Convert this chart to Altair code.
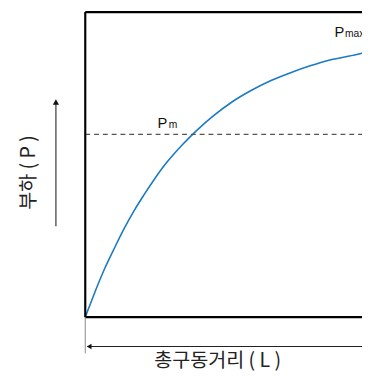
import altair as alt
import pandas as pd

# curve (x: distance units, y: load units)
curve_x = [0, 5, 10, 20, 30, 40, 50, 60, 70, 80, 90, 100, 113, 130, 150, 170, 190, 210, 230, 250, 270, 283]
curve_y = [0, 13, 26, 50, 71, 91, 109, 125, 140, 154, 166, 177, 190, 205, 220, 232, 242, 250, 257, 263, 267, 270]
pm_level = 187
x_max = 283
y_max = 312

x_title = "총구동거리 ( L )"
y_title = "부하 ( P )"

XS = alt.Scale(domain=[0, x_max], nice=False, zero=False)
YS = alt.Scale(domain=[0, y_max], nice=False, zero=False)

def X(f="x"):
    return alt.X(f, type="quantitative", scale=XS, axis=None)

def Y(f="y"):
    return alt.Y(f, type="quantitative", scale=YS, axis=None)

curve_df = pd.DataFrame({"x": curve_x, "y": curve_y})
curve = alt.Chart(curve_df).mark_line(color="#1a7ac4", strokeWidth=1.6, interpolate="monotone").encode(x=X(), y=Y())

pm_df = pd.DataFrame({"x": [0], "x2": [x_max], "y": [pm_level]})
pm_line = alt.Chart(pm_df).mark_rule(color="#555555", strokeWidth=1.2, strokeDash=[5, 4]).encode(
    x=X(), x2="x2", y=Y())

frame_df = pd.DataFrame({"x": [0, 0, 0], "y": [0, y_max, 0], "x2": [0, x_max, x_max], "y2": [y_max, y_max, 0]})
frame = alt.Chart(frame_df).mark_rule(color="black", strokeWidth=2.2).encode(x=X(), y=Y(), x2="x2", y2="y2")

ext_df = pd.DataFrame({"x": [0], "y": [0], "x2": [0], "y2": [-37]})
ext = alt.Chart(ext_df).mark_rule(color="#888888", strokeWidth=1).encode(x=X(), y=Y(), x2="x2", y2="y2")

arr_df = pd.DataFrame({"x": [2, -30], "y": [-30, 93], "x2": [x_max, -30], "y2": [-30, 221]})
arr = alt.Chart(arr_df).mark_rule(color="#222222", strokeWidth=1.1).encode(x=X(), y=Y(), x2="x2", y2="y2")

head_l = alt.Chart(pd.DataFrame({"x": [4], "y": [-30]})).mark_point(
    shape="triangle-left", filled=True, color="#111111", size=30, opacity=1).encode(x=X(), y=Y())
head_u = alt.Chart(pd.DataFrame({"x": [-30], "y": [220]})).mark_point(
    shape="triangle-up", filled=True, color="#111111", size=40, opacity=1).encode(x=X(), y=Y())

big_df = pd.DataFrame({"x": [74, 255], "y": [193.5, 287], "t": ["P", "P"]})
big = alt.Chart(big_df).mark_text(align="left", baseline="alphabetic", font="Liberation Sans",
                                  fontSize=15, color="#111111").encode(x=X(), y=Y(), text="t:N")
sub_df = pd.DataFrame({"x": [85.5, 265.5], "y": [193.5, 287], "t": ["m", "max"]})
sub = alt.Chart(sub_df).mark_text(align="left", baseline="alphabetic", font="Liberation Sans",
                                  fontSize=10.5, color="#111111").encode(x=X(), y=Y(), text="t:N")

xt = alt.Chart(pd.DataFrame({"x": [135.5], "y": [-51], "t": [x_title]})).mark_text(
    align="center", baseline="alphabetic", font="Noto Sans CJK KR", fontSize=20, color="#222222").encode(
    x=X(), y=Y(), text="t:N")
yt = alt.Chart(pd.DataFrame({"x": [-57], "y": [148], "t": [y_title]})).mark_text(
    align="center", baseline="middle", angle=270, font="Noto Sans CJK KR", fontSize=20, color="#222222").encode(
    x=X(), y=Y(), text="t:N")

chart = alt.layer(curve, pm_line, frame, ext, arr, head_l, head_u, big, sub, xt, yt).properties(
    width=x_max, height=y_max,
    autosize=alt.AutoSizeParams(type="none"),
    padding={"left": 79, "top": 0, "right": 0, "bottom": 55},
).configure_view(stroke=None)

chart.save("out.html", embed_options={"renderer": "svg", "actions": False})
